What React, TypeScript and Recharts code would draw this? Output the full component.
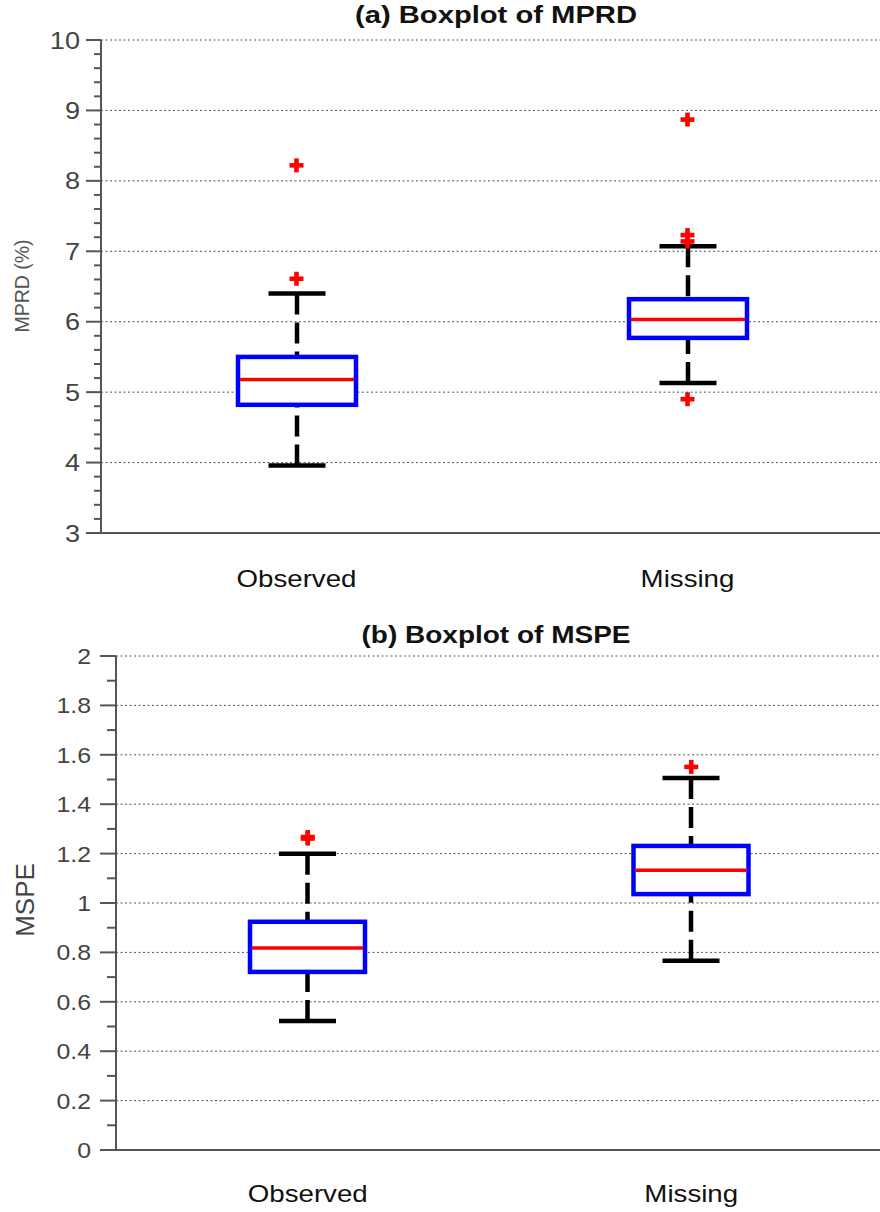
import { ComposedChart, Bar, Scatter, XAxis, YAxis, CartesianGrid } from "recharts";

const categories = ["Observed", "Missing"];

// (a) MPRD
const mprdMin = [3.96, 5.13];
const mprdQ1 = [4.82, 5.77];
const mprdMedian = [5.18, 6.03];
const mprdQ3 = [5.5, 6.32];
const mprdMax = [6.4, 7.07];
const mprdOutlierCats = ["Observed", "Observed", "Missing", "Missing", "Missing", "Missing"];
const mprdOutlierValues = [8.22, 6.61, 8.87, 7.23, 7.14, 4.9];
const mprdMajorTicks = [3, 4, 5, 6, 7, 8, 9, 10];
const mprdGridTicks = [4, 5, 6, 7, 8, 9, 10];
const mprdTicks = [
  3, 3.2, 3.4, 3.6, 3.8, 4, 4.2, 4.4, 4.6, 4.8, 5, 5.2, 5.4, 5.6, 5.8, 6, 6.2, 6.4, 6.6, 6.8,
  7, 7.2, 7.4, 7.6, 7.8, 8, 8.2, 8.4, 8.6, 8.8, 9, 9.2, 9.4, 9.6, 9.8, 10,
];

// (b) MSPE
const mspeMin = [0.522, 0.766];
const mspeQ1 = [0.721, 1.036];
const mspeMedian = [0.818, 1.133];
const mspeQ3 = [0.924, 1.231];
const mspeMax = [1.199, 1.506];
const mspeOutlierCats = ["Observed", "Observed", "Missing"];
const mspeOutlierValues = [1.261, 1.267, 1.551];
const mspeMajorTicks = [0, 0.2, 0.4, 0.6, 0.8, 1, 1.2, 1.4, 1.6, 1.8, 2];
const mspeGridTicks = [0.2, 0.4, 0.6, 0.8, 1, 1.2, 1.4, 1.6, 1.8, 2];
const mspeTicks = [
  0, 0.1, 0.2, 0.3, 0.4, 0.5, 0.6, 0.7, 0.8, 0.9, 1, 1.1, 1.2, 1.3, 1.4, 1.5, 1.6, 1.7, 1.8, 1.9, 2,
];

const FONT = "'Liberation Sans', Arial, Helvetica, sans-serif";
const SX = 1.13; // glyphs in the source are a bit wide

const boxes = (mn: number[], q1: number[], md: number[], q3: number[], mx: number[]) =>
  categories.map((name, i) => ({
    name,
    min: mn[i],
    q1: q1[i],
    median: md[i],
    q3: q3[i],
    max: mx[i],
    range: [mn[i], mx[i]],
  }));

const outliers = (cats: string[], vals: number[]) => cats.map((name, i) => ({ name, value: vals[i] }));

const mprdData = boxes(mprdMin, mprdQ1, mprdMedian, mprdQ3, mprdMax);
const mspeData = boxes(mspeMin, mspeQ1, mspeMedian, mspeQ3, mspeMax);
const mprdOut = outliers(mprdOutlierCats, mprdOutlierValues);
const mspeOut = outliers(mspeOutlierCats, mspeOutlierValues);

function StretchText({ x, y, anchor, size, weight, fill, children }: any) {
  return (
    <text
      transform={`translate(${x},${y}) scale(${SX},1)`}
      textAnchor={anchor}
      fontSize={size}
      fontWeight={weight || "normal"}
      fill={fill}
      fontFamily={FONT}
    >
      {children}
    </text>
  );
}

function BoxShape(props: any) {
  const { x, y, width, height, payload, capWidth } = props;
  if (!payload || height == null) return null;
  const top = Math.min(y, y + height);
  const h = Math.abs(height);
  const span = payload.max - payload.min;
  const py = (v: number) => top + (h * (payload.max - v)) / span;
  const cx = x + width / 2;
  const yMax = py(payload.max);
  const yMin = py(payload.min);
  const yQ3 = py(payload.q3);
  const yQ1 = py(payload.q1);
  const yMed = py(payload.median);
  return (
    <g>
      <line x1={cx} x2={cx} y1={yMax} y2={yQ3} stroke="#000" strokeWidth={4.5} strokeDasharray="21 8" />
      <line x1={cx} x2={cx} y1={yMin} y2={yQ1} stroke="#000" strokeWidth={4.5} strokeDasharray="21 8" />
      <line x1={cx - capWidth / 2} x2={cx + capWidth / 2} y1={yMax} y2={yMax} stroke="#000" strokeWidth={4.5} />
      <line x1={cx - capWidth / 2} x2={cx + capWidth / 2} y1={yMin} y2={yMin} stroke="#000" strokeWidth={4.5} />
      <rect x={x} y={yQ3} width={width} height={yQ1 - yQ3} fill="#fff" stroke="#0000ff" strokeWidth={4.5} />
      <line x1={x + 2} x2={x + width - 2} y1={yMed} y2={yMed} stroke="#ff0000" strokeWidth={3.5} />
    </g>
  );
}

function PlusShape(props: any) {
  const { cx, cy } = props;
  if (cx == null || cy == null) return null;
  return (
    <g fill="#ff0000">
      <rect x={cx - 7} y={cy - 2.3} width={14} height={4.6} />
      <rect x={cx - 2.3} y={cy - 7} width={4.6} height={14} />
    </g>
  );
}

function makeYTick(majors: number[], majorLen: number, minorLen: number, gap: number, size: number) {
  return (props: any) => {
    const { x, y, payload } = props;
    const isMajor = majors.some((m) => Math.abs(m - payload.value) < 1e-6);
    return (
      <g>
        <line x1={x - (isMajor ? majorLen : minorLen)} x2={x} y1={y} y2={y} stroke="#555" strokeWidth={2} />
        {isMajor && (
          <StretchText x={x - gap} y={y + size * 0.36} anchor="end" size={size} fill="#444">
            {String(payload.value)}
          </StretchText>
        )}
      </g>
    );
  };
}

function makeXTick(offset: number) {
  return (props: any) => {
    const { x, y, payload } = props;
    return (
      <StretchText x={x} y={y + offset} anchor="middle" size={24.5} fill="#111">
        {payload.value}
      </StretchText>
    );
  };
}

function BoxPanel({ data, out, domain, ticks, majors, grid, top, height, axisW, xAxisH, barSize, capWidth, majorLen, minorLen, gap, size, labelOffset }: any) {
  return (
    <ComposedChart
      width={880}
      height={height}
      data={data}
      margin={{ top, right: -3, bottom: 0, left: 0 }}
    >
      <CartesianGrid
        vertical={false}
        yAxisId="grid"
        stroke="#555"
        strokeWidth={1}
        strokeDasharray="2 2.5"
      />
      <XAxis
        dataKey="name"
        type="category"
        allowDuplicatedCategory={false}
        height={xAxisH}
        axisLine={{ stroke: "#555", strokeWidth: 2 }}
        tickLine={false}
        tickSize={0}
        tickMargin={0}
        tick={makeXTick(labelOffset)}
      />
      <YAxis
        type="number"
        domain={domain}
        ticks={ticks}
        interval={0}
        width={axisW}
        axisLine={{ stroke: "#555", strokeWidth: 2 }}
        tickLine={false}
        tickSize={0}
        tickMargin={0}
        tick={makeYTick(majors, majorLen, minorLen, gap, size)}
        allowDataOverflow
      />
      <YAxis yAxisId="grid" type="number" domain={domain} ticks={grid} interval={0} hide allowDataOverflow />
      <Bar
        dataKey="range"
        barSize={barSize}
        isAnimationActive={false}
        shape={(p: any) => <BoxShape {...p} capWidth={capWidth} />}
      />
      <Scatter data={out} dataKey="value" isAnimationActive={false} shape={PlusShape} />
    </ComposedChart>
  );
}

export default function App() {
  return (
    <div style={{ position: "absolute", left: 0, top: 0, width: 880, height: 1212, background: "#fff", overflow: "hidden" }}>
      <div style={{ position: "absolute", left: 0, top: 0 }}>
        <BoxPanel
          data={mprdData}
          out={mprdOut}
          domain={[3, 10]}
          ticks={mprdTicks}
          majors={mprdMajorTicks}
          grid={mprdGridTicks}
          top={40}
          height={600}
          axisW={101}
          xAxisH={67}
          barSize={118}
          capWidth={57}
          majorLen={15}
          minorLen={7}
          gap={21}
          size={24}
          labelOffset={54}
        />
      </div>
      <div style={{ position: "absolute", left: 0, top: 600 }}>
        <BoxPanel
          data={mspeData}
          out={mspeOut}
          domain={[0, 2]}
          ticks={mspeTicks}
          majors={mspeMajorTicks}
          grid={mspeGridTicks}
          top={56}
          height={612}
          axisW={116}
          xAxisH={62}
          barSize={115}
          capWidth={57}
          majorLen={16}
          minorLen={9}
          gap={25}
          size={22}
          labelOffset={52}
        />
      </div>
      <svg
        width={880}
        height={1212}
        style={{ position: "absolute", left: 0, top: 0, pointerEvents: "none" }}
      >
        <text x={496} y={23} textAnchor="middle" fontSize={24} fontWeight="bold" fill="#111" fontFamily={FONT} textLength={282} lengthAdjust="spacingAndGlyphs">
          (a) Boxplot of MPRD
        </text>
        <text x={496} y={643} textAnchor="middle" fontSize={24} fontWeight="bold" fill="#111" fontFamily={FONT} textLength={269} lengthAdjust="spacingAndGlyphs">
          (b) Boxplot of MSPE
        </text>
        <text transform="translate(29,286) rotate(-90)" textAnchor="middle" fontSize={19.5} fill="#555" fontFamily={FONT}>
          MPRD (%)
        </text>
        <text transform="translate(34,900) rotate(-90)" textAnchor="middle" fontSize={26} fill="#444" fontFamily={FONT}>
          MSPE
        </text>
      </svg>
    </div>
  );
}
